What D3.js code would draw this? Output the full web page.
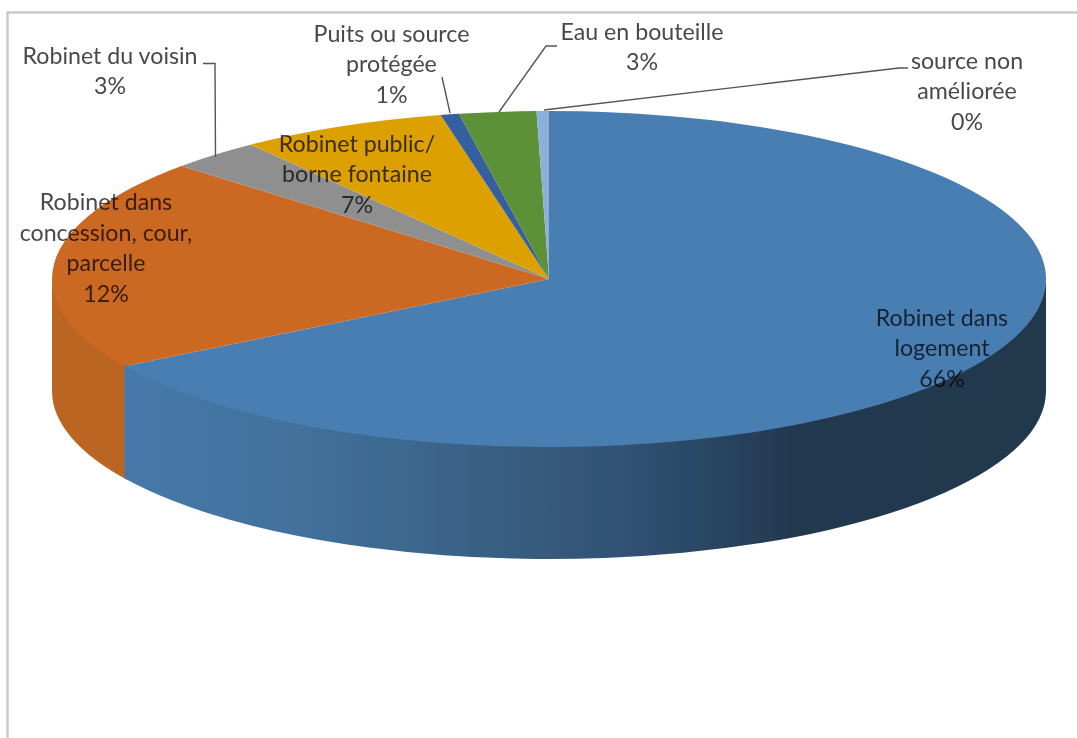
<!DOCTYPE html>
<html><head><meta charset="utf-8">
<script src="https://cdn.jsdelivr.net/npm/d3@7/dist/d3.min.js"></script>
<style>html,body{margin:0;padding:0;background:#fff}svg{display:block}
text{font-family:Lato,"Open Sans",sans-serif;fill:#484848;mix-blend-mode:multiply}</style>
</head><body><svg id="c" width="1077" height="738"></svg>
<script>
const categories=["Robinet dans logement","Robinet dans concession, cour, parcelle","Robinet du voisin","Robinet public/ borne fontaine","Puits ou source protégée","Eau en bouteille","source non améliorée"];
const shares=[66.3,20.45,3.0,6.75,0.6,2.5,0.4];
const printedPercent=["66%","12%","3%","7%","1%","3%","0%"];
const colors=["#4a7eb3","#cb6923","#8f8f8f","#dca000","#34609f","#5b9138","#8db0d8"];
const sideColors=["#4579a9","#bb6520"];
const labelLines=[["Robinet dans","logement","66%"],["Robinet dans","concession, cour,","parcelle","12%"],["Robinet du voisin","3%"],["Robinet public/","borne fontaine","7%"],["Puits ou source","protégée","1%"],["Eau en bouteille","3%"],["source non","améliorée","0%"]];
const labelCentre=[[942,348],[106,248],[110,71],[357,174],[391.5,64],[642,47],[967,91]];
const leaderLines=[null,null,[[203,63.5],[215,63.5],[215.5,157]],null,[[442,77],[450,113]],[[557,46],[546,46],[499,112]],[[908,68],[899,68],[544,110]]];

const W=1077,H=738,cx=549,cy=279,rx=497,ry=168,depth=112;
const svg=d3.select("#c");
const defs=svg.append("defs");
const grad=defs.append("linearGradient").attr("id","side").attr("gradientUnits","userSpaceOnUse").attr("x1",123).attr("x2",1046).attr("y1",0).attr("y2",0);
[[0,"#4579a9"],[0.19,"#42719c"],[0.355,"#3a6389"],[0.456,"#375a7c"],[0.57,"#2f4f70"],[0.733,"#22384f"],[1,"#20374e"]].forEach(s=>grad.append("stop").attr("offset",s[0]).attr("stop-color",s[1]));
const blur=defs.append("filter").attr("id","soft").attr("x",0).attr("y",0).attr("width",1).attr("height",1);
blur.append("feGaussianBlur").attr("stdDeviation",0.7);

const root=svg.append("g").attr("filter","url(#soft)");
root.append("rect").attr("width",W).attr("height",H).attr("fill","#fff");
root.append("path").attr("d",`M${W},12.5H7.5V${H}`).attr("fill","none").attr("stroke","#c9c9c9").attr("stroke-width",2.4);

const pie=d3.pie().sort(null).value(d=>d)(shares);
// Front wall: visible part of each slice lying between 90deg and 270deg clockwise from top
const ex=a=>cx+rx*Math.sin(a), ey=a=>cy-ry*Math.cos(a);
const wall=(a0,a1)=>{const p0=Math.max(a0,Math.PI/2),p1=Math.min(a1,3*Math.PI/2);
  if(p1<=p0)return null;
  return `M${ex(p0)},${ey(p0)-3}A${rx},${ry} 0 0 1 ${ex(p1)},${ey(p1)-3}L${ex(p1)},${ey(p1)+depth}A${rx},${ry} 0 0 0 ${ex(p0)},${ey(p0)+depth}Z`;};
// The orange wall goes first and runs slightly under the blue one, closing the seam between them
root.append("path").attr("d",wall(pie[1].startAngle-0.01,pie[1].endAngle)).attr("fill",sideColors[1]);
root.append("path").attr("d",wall(pie[0].startAngle,pie[0].endAngle)).attr("fill","url(#side)");
const arc=d3.arc().innerRadius(0).outerRadius(rx);
root.append("g").attr("transform",`translate(${cx},${cy}) scale(1,${ry/rx})`)
  .selectAll("path").data(pie).join("path").attr("d",arc).attr("fill",(d,i)=>colors[i]);

const line=d3.line();
root.selectAll("path.lead").data(leaderLines.filter(Boolean)).join("path").attr("class","lead")
  .attr("d",d=>line(d)).attr("fill","none").attr("stroke","#555").attr("stroke-width",1.4);

const fs=23.2,lh=30.5;
labelLines.forEach((ls,i)=>{
  const all=ls.slice(0,-1).concat([printedPercent[i]]);
  const t=root.append("text").attr("text-anchor","middle").attr("font-size",fs);
  all.forEach((s,j)=>t.append("tspan").attr("x",labelCentre[i][0]).attr("y",labelCentre[i][1]+(j-(all.length-1)/2)*lh+8).text(s));
});
</script></body></html>
